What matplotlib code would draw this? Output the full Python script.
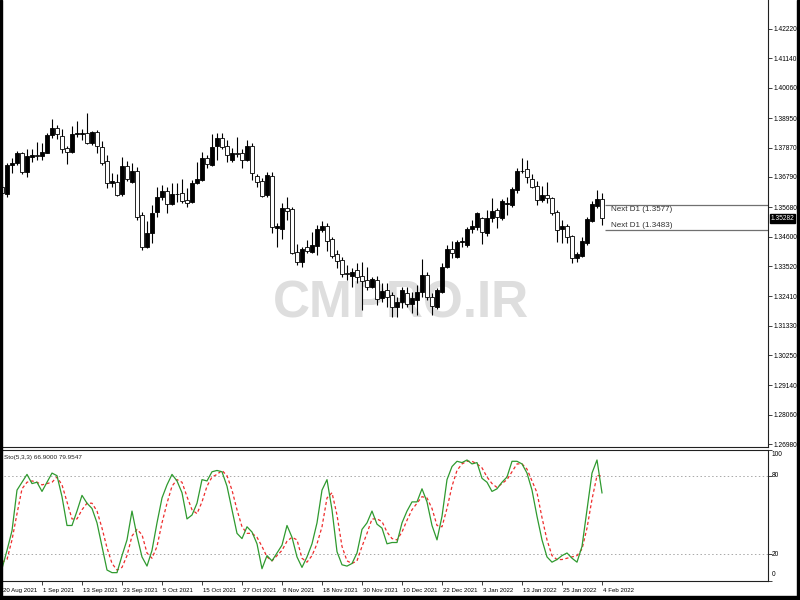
import matplotlib

matplotlib.use("Agg")
import matplotlib.pyplot as plt
import numpy as np
import pandas as pd
from matplotlib.patches import Rectangle
from matplotlib.transforms import blended_transform_factory, offset_copy

plt.rcParams["font.family"] = ["Liberation Sans", "DejaVu Sans"]

# one daily bar per weekday
dates = pd.bdate_range("2021-08-20", "2022-02-04")

opens = [
    1.3642, 1.3617, 1.3723, 1.3730, 1.3767, 1.3697, 1.3752, 1.3758, 1.3756, 1.3767,
    1.3833, 1.3859, 1.3829, 1.3785, 1.3771, 1.3837, 1.3838, 1.3840, 1.3804, 1.3844,
    1.3789, 1.3738, 1.3657, 1.3661, 1.3617, 1.3719, 1.3661, 1.3701, 1.3539, 1.3422,
    1.3473, 1.3550, 1.3606, 1.3628, 1.3580, 1.3617, 1.3620, 1.3594, 1.3587, 1.3657,
    1.3668, 1.3749, 1.3723, 1.3793, 1.3822, 1.3793, 1.3741, 1.3767, 1.3767, 1.3741,
    1.3793, 1.3683, 1.3664, 1.3613, 1.3683, 1.3492, 1.3488, 1.3565, 1.3561, 1.3404,
    1.3367, 1.3422, 1.3404, 1.3426, 1.3484, 1.3499, 1.3451, 1.3396, 1.3374, 1.3327,
    1.3316, 1.3338, 1.3316, 1.3301, 1.3275, 1.3301, 1.3235, 1.3264, 1.3246, 1.3202,
    1.3220, 1.3253, 1.3213, 1.3228, 1.3257, 1.3319, 1.3239, 1.3202, 1.3257, 1.3349,
    1.3415, 1.3385, 1.3440, 1.3429, 1.3488, 1.3495, 1.3528, 1.3473, 1.3528, 1.3558,
    1.3528, 1.3580, 1.3576, 1.3631, 1.3701, 1.3708, 1.3672, 1.3646, 1.3594, 1.3613,
    1.3602, 1.3550, 1.3488, 1.3499, 1.3462, 1.3382, 1.3389, 1.3437, 1.3517, 1.3572,
    1.3598,
]
highs = [
    1.3653, 1.3730, 1.3749, 1.3774, 1.3771, 1.3782, 1.3782, 1.3807, 1.3804, 1.3840,
    1.3892, 1.3870, 1.3855, 1.3793, 1.3866, 1.3884, 1.3855, 1.3914, 1.3848, 1.3851,
    1.3811, 1.3760, 1.3694, 1.3690, 1.3752, 1.3738, 1.3730, 1.3716, 1.3550, 1.3517,
    1.3576, 1.3642, 1.3650, 1.3642, 1.3657, 1.3657, 1.3672, 1.3639, 1.3668, 1.3734,
    1.3771, 1.3760, 1.3837, 1.3840, 1.3840, 1.3815, 1.3785, 1.3826, 1.3782, 1.3815,
    1.3804, 1.3690, 1.3675, 1.3697, 1.3697, 1.3510, 1.3583, 1.3606, 1.3569, 1.3433,
    1.3422, 1.3448, 1.3477, 1.3503, 1.3517, 1.3510, 1.3459, 1.3411, 1.3385, 1.3356,
    1.3345, 1.3363, 1.3367, 1.3349, 1.3312, 1.3316, 1.3290, 1.3290, 1.3257, 1.3239,
    1.3275, 1.3275, 1.3257, 1.3283, 1.3378, 1.3330, 1.3253, 1.3272, 1.3363, 1.3429,
    1.3444, 1.3448, 1.3459, 1.3495, 1.3521, 1.3550, 1.3532, 1.3558, 1.3602, 1.3565,
    1.3598, 1.3606, 1.3642, 1.3712, 1.3749, 1.3741, 1.3690, 1.3664, 1.3646, 1.3661,
    1.3606, 1.3558, 1.3521, 1.3506, 1.3466, 1.3404, 1.3459, 1.3532, 1.3591, 1.3631,
    1.3620,
]
lows = [
    1.3609, 1.3606, 1.3694, 1.3723, 1.3690, 1.3679, 1.3734, 1.3741, 1.3741, 1.3767,
    1.3822, 1.3818, 1.3767, 1.3727, 1.3767, 1.3826, 1.3815, 1.3800, 1.3796, 1.3767,
    1.3723, 1.3639, 1.3642, 1.3609, 1.3609, 1.3664, 1.3657, 1.3521, 1.3411, 1.3418,
    1.3437, 1.3532, 1.3594, 1.3547, 1.3576, 1.3587, 1.3583, 1.3569, 1.3583, 1.3654,
    1.3664, 1.3712, 1.3719, 1.3741, 1.3782, 1.3734, 1.3734, 1.3752, 1.3712, 1.3738,
    1.3668, 1.3642, 1.3606, 1.3606, 1.3473, 1.3422, 1.3451, 1.3521, 1.3396, 1.3356,
    1.3349, 1.3400, 1.3400, 1.3393, 1.3477, 1.3407, 1.3382, 1.3345, 1.3312, 1.3301,
    1.3275, 1.3290, 1.3191, 1.3264, 1.3272, 1.3209, 1.3220, 1.3202, 1.3165, 1.3165,
    1.3198, 1.3202, 1.3180, 1.3173, 1.3239, 1.3228, 1.3173, 1.3195, 1.3253, 1.3345,
    1.3382, 1.3382, 1.3422, 1.3422, 1.3473, 1.3484, 1.3433, 1.3462, 1.3514, 1.3492,
    1.3521, 1.3539, 1.3569, 1.3620, 1.3694, 1.3657, 1.3639, 1.3576, 1.3587, 1.3583,
    1.3539, 1.3440, 1.3437, 1.3437, 1.3363, 1.3367, 1.3385, 1.3429, 1.3514, 1.3565,
    1.3503,
]
closes = [
    1.3620, 1.3723, 1.3730, 1.3767, 1.3697, 1.3756, 1.3760, 1.3756, 1.3771, 1.3833,
    1.3859, 1.3837, 1.3782, 1.3771, 1.3837, 1.3840, 1.3842, 1.3804, 1.3844, 1.3793,
    1.3730, 1.3657, 1.3664, 1.3613, 1.3719, 1.3672, 1.3701, 1.3532, 1.3422, 1.3473,
    1.3547, 1.3606, 1.3628, 1.3580, 1.3617, 1.3615, 1.3591, 1.3583, 1.3657, 1.3672,
    1.3749, 1.3727, 1.3789, 1.3822, 1.3789, 1.3760, 1.3767, 1.3765, 1.3741, 1.3793,
    1.3694, 1.3661, 1.3609, 1.3686, 1.3495, 1.3499, 1.3565, 1.3554, 1.3400, 1.3367,
    1.3415, 1.3407, 1.3429, 1.3488, 1.3499, 1.3444, 1.3389, 1.3371, 1.3323, 1.3323,
    1.3330, 1.3312, 1.3297, 1.3275, 1.3305, 1.3231, 1.3261, 1.3239, 1.3202, 1.3220,
    1.3264, 1.3213, 1.3235, 1.3257, 1.3319, 1.3239, 1.3205, 1.3264, 1.3349, 1.3415,
    1.3400, 1.3440, 1.3442, 1.3488, 1.3499, 1.3547, 1.3477, 1.3528, 1.3554, 1.3532,
    1.3591, 1.3582, 1.3635, 1.3701, 1.3699, 1.3679, 1.3642, 1.3594, 1.3613, 1.3602,
    1.3547, 1.3484, 1.3499, 1.3459, 1.3382, 1.3396, 1.3444, 1.3525, 1.3580, 1.3598,
    1.35282,
]

# Stochastic (5,3,3): %K main line and %D signal line
sto_k = [
    9, 23, 38, 69, 75, 81, 74, 75, 68, 75, 82, 80, 64, 42, 42, 53, 65, 59, 55, 44,
    26, 8, 6, 6, 19, 31, 53, 34, 18, 11, 23, 44, 63, 73, 81, 76, 67, 47, 50, 59,
    77, 76, 83, 84, 83, 72, 54, 36, 32, 41, 37, 28, 9, 19, 15, 21, 27, 42, 33, 18,
    10, 18, 28, 44, 69, 77, 54, 22, 12, 11, 13, 21, 39, 44, 53, 43, 40, 28, 29, 29,
    44, 53, 60, 60, 70, 60, 42, 31, 49, 77, 87, 91, 90, 92, 89, 90, 78, 75, 68, 70,
    75, 79, 91, 91, 89, 82, 69, 49, 31, 18, 14, 16, 19, 21, 17, 14, 26, 54, 82, 92,
    66.9,
]
sto_d = [
    14, 16, 31, 51, 70, 75, 76, 75, 73, 74, 75, 79, 73, 60, 47, 47, 54, 59, 59, 53,
    40, 25, 13, 8, 10, 19, 34, 39, 35, 21, 17, 26, 44, 59, 72, 77, 75, 64, 54, 51,
    60, 72, 79, 81, 84, 80, 69, 54, 41, 36, 36, 33, 26, 18, 15, 19, 23, 30, 33, 31,
    17, 14, 19, 28, 41, 63, 67, 50, 26, 15, 13, 15, 26, 36, 47, 47, 45, 37, 32, 31,
    37, 46, 54, 59, 64, 63, 55, 42, 41, 55, 72, 84, 89, 91, 91, 89, 86, 79, 74, 71,
    74, 77, 83, 89, 89, 85, 76, 67, 48, 31, 19, 16, 16, 17, 18, 19, 24, 40, 62, 80,
    79.9547,
]

price_ticks = [1.42220, 1.41140, 1.40060, 1.38950, 1.37870, 1.36790, 1.35680, 1.34600,
               1.33520, 1.32410, 1.31330, 1.30250, 1.29140, 1.28060, 1.26980]
next_d1 = [1.3577, 1.3483]
sto_levels = [20, 80]
sto_ticks = [0, 20, 80, 100]

o = np.array(opens)
h = np.array(highs)
l = np.array(lows)
c = np.array(closes)
x = np.arange(len(o))
up = c >= o

FRAME = "#202020"
SMALL = 4.8

fig = plt.figure(figsize=(8, 6), dpi=100, facecolor="white")
ax = fig.add_axes([0.0, 1 - 447 / 600, 768 / 800, 447 / 600])
ax2 = fig.add_axes([0.0, 1 - 580.5 / 600, 768 / 800, 131 / 600])

for a in (ax, ax2):
    a.set_xlim(-0.4, 153.2)
    a.set_facecolor("white")
    a.spines["left"].set_visible(False)
    for s in ("right", "bottom", "top"):
        a.spines[s].set_color(FRAME)
        a.spines[s].set_linewidth(0.8)
ax.spines["top"].set_visible(False)

# ---- price panel ----
ax.set_ylim(1.26879, 1.43284)

ax.text(0.522, 0.29, "CMPRO.IR", transform=ax.transAxes, ha="center", va="baseline",
        fontsize=37, fontweight="bold", color="#dedede", zorder=0.5)

ax.vlines(x, l, h, color="black", lw=0.8, zorder=2)
body_lo = np.minimum(o, c)
body_h = np.maximum(np.abs(c - o), 0.0003)
ax.bar(x[up], body_h[up], bottom=body_lo[up], width=0.62, color="black",
       edgecolor="black", lw=0.6, zorder=3)
ax.bar(x[~up], body_h[~up], bottom=body_lo[~up], width=0.62, color="white",
       edgecolor="black", lw=0.6, zorder=3)

ax.hlines(next_d1, 120.6, 153.2, color="#707070", lw=0.9, zorder=2)
ax.text(121.8, next_d1[0], "Next D1 (%.4f)" % next_d1[0], fontsize=5.8, color="#303030",
        ha="left", va="top",
        transform=offset_copy(ax.transData, fig=fig, x=0, y=-1.5, units="dots"))
ax.text(121.8, next_d1[1], "Next D1 (%.4f)" % next_d1[1], fontsize=5.8, color="#303030",
        ha="left", va="bottom",
        transform=offset_copy(ax.transData, fig=fig, x=0, y=1.0, units="dots"))

ax.set_xticks([])
ax.yaxis.tick_right()
ax.set_yticks(price_ticks)
ax.set_yticklabels(["%.5f" % v for v in price_ticks])
ax.tick_params(axis="y", length=3, width=0.6, color=FRAME, labelsize=SMALL, pad=1)

bt = blended_transform_factory(ax.transAxes, ax.transData)
ax.text(1.0, closes[-1], "%.5f" % closes[-1], transform=offset_copy(bt, fig=fig, x=2.5, y=0, units="dots"),
        ha="left", va="center", fontsize=SMALL, color="white", clip_on=False,
        bbox=dict(boxstyle="square,pad=0.15", fc="black", ec="black"))

# ---- stochastic panel ----
ax2.set_ylim(0, 100)
for lv in sto_levels:
    ax2.axhline(lv, color="#a8a8a8", lw=0.7, ls=(0, (1.5, 2.5)), zorder=0.5)
ax2.plot(x, sto_k, color="#2f9a2f", lw=0.9, zorder=3)
ax2.plot(x, sto_d, color="#ee2c2c", lw=0.9, ls=(0, (2.5, 2)), zorder=2)

ax2.text(4 / 768, 1 - 7.5 / 131, "Sto(5,3,3) %.4f %.4f" % (sto_k[-1], sto_d[-1]),
         transform=ax2.transAxes, ha="left", va="center", fontsize=4.6, color="#202020")

ax2.set_yticks(sto_ticks)
ax2.tick_params(axis="y", left=False, right=True, labelleft=False, labelright=False,
                length=3, width=0.6, color=FRAME)
bt2 = blended_transform_factory(ax2.transAxes, ax2.transData)
for v in sto_ticks:
    va = "top" if v == 100 else ("bottom" if v == 0 else "center")
    dy = -1.5 if v == 100 else (2 if v == 0 else 0)
    ax2.text(1.0, v, str(v), transform=offset_copy(bt2, fig=fig, x=4, y=dy, units="dots"),
             ha="left", va=va, fontsize=SMALL, clip_on=False)

tick_idx = np.arange(0, len(dates), 8)
ax2.set_xticks(tick_idx)
ax2.set_xticklabels([])
ax2.tick_params(axis="x", length=3, width=0.6, color=FRAME, direction="out")
bx = blended_transform_factory(ax2.transData, ax2.transAxes)
for i in tick_idx:
    d = dates[i]
    ax2.text(i, 0, "%d %s" % (d.day, d.strftime("%b %Y")),
             transform=offset_copy(bx, fig=fig, x=1, y=-10, units="dots"),
             ha="left", va="center", fontsize=4.4, clip_on=False)

# screenshot frame
for r in [(0, 0, 2 / 800, 1), (797 / 800, 0, 3 / 800, 1), (0, 0, 1, 4 / 600)]:
    fig.add_artist(Rectangle(r[:2], r[2], r[3], transform=fig.transFigure,
                             color="black", zorder=10))

fig.savefig("out.png", dpi=100)
